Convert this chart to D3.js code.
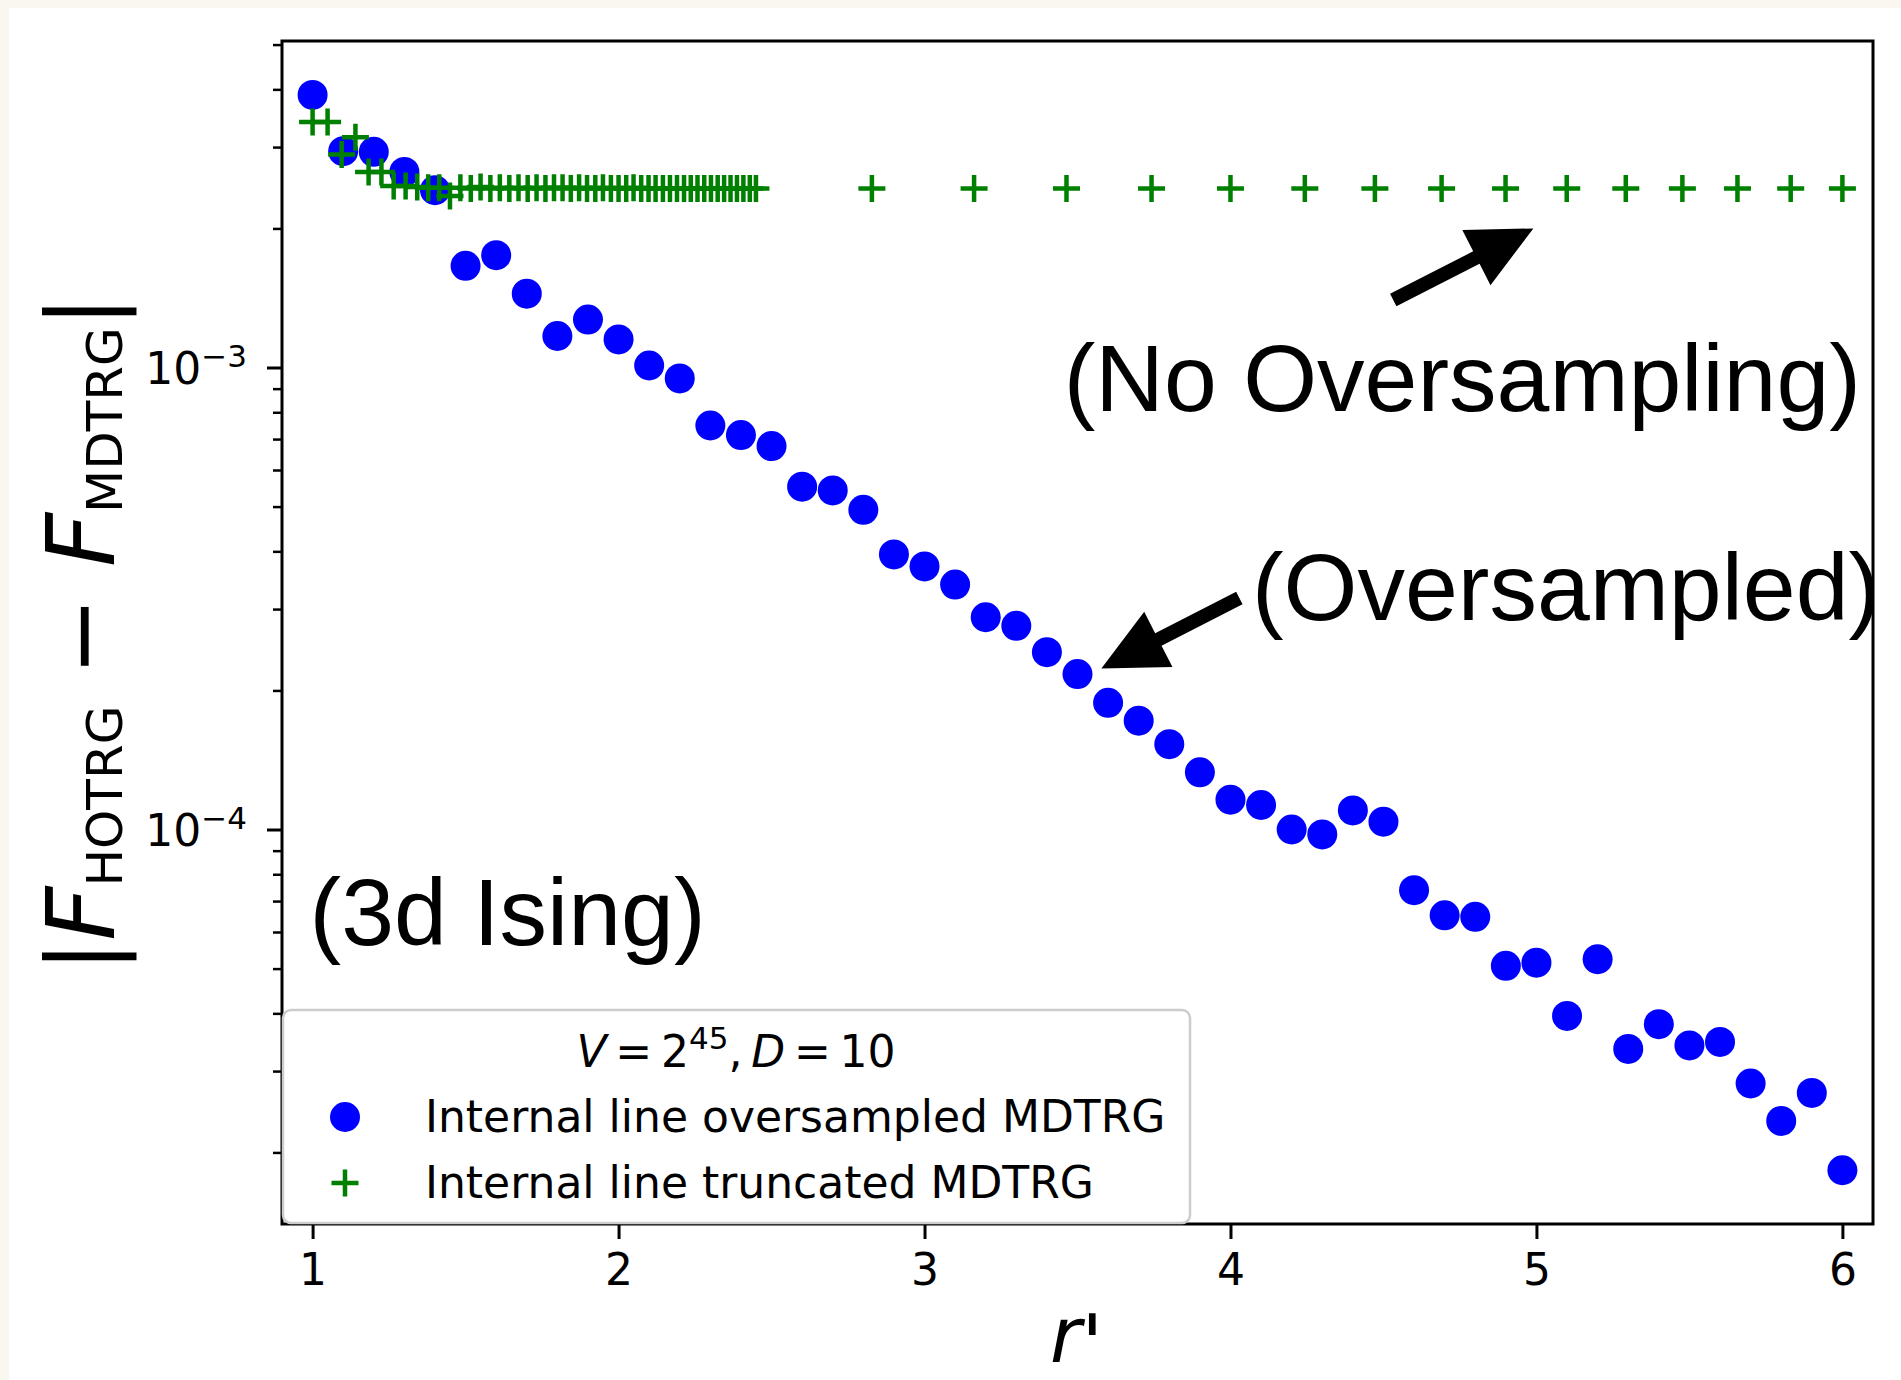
<!DOCTYPE html>
<html>
<head>
<meta charset="utf-8">
<script src="https://cdn.jsdelivr.net/npm/d3@7"></script>
<style>
  body { margin: 0; background: #faf6f0; }
  svg { display: block; }
</style>
</head>
<body>
<div id="chart"></div>
<script>

	// r' values and |F_HOTRG - F_MDTRG| for the oversampled run (blue dots)
	var rOversampled = [1.0, 1.1, 1.2, 1.3, 1.4, 1.5, 1.6, 1.7, 1.8, 1.9,
		2.0, 2.1, 2.2, 2.3, 2.4, 2.5, 2.6, 2.7, 2.8, 2.9,
		3.0, 3.1, 3.2, 3.3, 3.4, 3.5, 3.6, 3.7, 3.8, 3.9,
		4.0, 4.1, 4.2, 4.3, 4.4, 4.5, 4.6, 4.7, 4.8, 4.9,
		5.0, 5.1, 5.2, 5.3, 5.4, 5.5, 5.6, 5.7, 5.8, 5.9, 6.0];
	var errOversampled = [3.89e-3, 2.94e-3, 2.93e-3, 2.65e-3, 2.42e-3, 1.66e-3, 1.75e-3, 1.445e-3, 1.17e-3, 1.27e-3,
		1.15e-3, 1.01e-3, 9.47e-4, 7.49e-4, 7.14e-4, 6.76e-4, 5.52e-4, 5.42e-4, 4.92e-4, 3.94e-4,
		3.71e-4, 3.39e-4, 2.88e-4, 2.76e-4, 2.42e-4, 2.17e-4, 1.88e-4, 1.72e-4, 1.53e-4, 1.33e-4,
		1.16e-4, 1.13e-4, 1.00e-4, 9.76e-5, 1.10e-4, 1.04e-4, 7.39e-5, 6.52e-5, 6.47e-5, 5.07e-5,
		5.15e-5, 3.95e-5, 5.24e-5, 3.35e-5, 3.79e-5, 3.41e-5, 3.47e-5, 2.82e-5, 2.34e-5, 2.69e-5, 1.83e-5];

	// truncated run (green pluses)
	var rTruncated = [1.000, 1.049, 1.095, 1.140, 1.183, 1.225, 1.265, 1.304, 1.342, 1.378,
		1.414, 1.449, 1.483, 1.517, 1.549, 1.581, 1.612, 1.643, 1.673, 1.703,
		1.732, 1.761, 1.789, 1.817, 1.844, 1.871, 1.897, 1.924, 1.949, 1.975,
		2.000, 2.025, 2.049, 2.074, 2.098, 2.121, 2.145, 2.168, 2.191, 2.214,
		2.236, 2.258, 2.280, 2.302, 2.324, 2.345, 2.366, 2.387, 2.408, 2.429, 2.449,
		2.828, 3.162, 3.464, 3.742, 4.000, 4.243, 4.472, 4.690, 4.899, 5.099,
		5.292, 5.477, 5.657, 5.831, 6.000];
	var errTruncated = [3.40e-3, 3.40e-3, 2.89e-3, 3.15e-3, 2.65e-3, 2.65e-3, 2.47e-3, 2.47e-3, 2.46e-3, 2.45e-3,
		2.45e-3, 2.35e-3, 2.45e-3, 2.44e-3, 2.46e-3, 2.44e-3, 2.45e-3, 2.44e-3, 2.45e-3, 2.44e-3,
		2.45e-3, 2.44e-3, 2.45e-3, 2.45e-3, 2.44e-3, 2.45e-3, 2.44e-3, 2.44e-3, 2.45e-3, 2.44e-3,
		2.44e-3, 2.44e-3, 2.45e-3, 2.44e-3, 2.44e-3, 2.44e-3, 2.44e-3, 2.44e-3, 2.44e-3, 2.44e-3,
		2.44e-3, 2.44e-3, 2.44e-3, 2.44e-3, 2.44e-3, 2.44e-3, 2.44e-3, 2.44e-3, 2.44e-3, 2.44e-3, 2.44e-3,
		2.44e-3, 2.44e-3, 2.44e-3, 2.44e-3, 2.44e-3, 2.44e-3, 2.44e-3, 2.44e-3, 2.44e-3, 2.44e-3,
		2.44e-3, 2.44e-3, 2.44e-3, 2.44e-3, 2.44e-3];

	var xTicks = [1, 2, 3, 4, 5, 6];
	var yMajorTicks = [1e-3, 1e-4];
	var xDomain = [0.9, 6.1];
	var yDomain = [1.40e-5, 5.09e-3];

	var legendTitle = "V = 2^45, D = 10";
	var seriesNames = ["Internal line oversampled MDTRG", "Internal line truncated MDTRG"];

	// annotation texts [label, x, y] and arrows [tailX, tailY, tipX, tipY] in data coords
	var notes = [["(No Oversampling)", 3.455, 8.07e-4], ["(Oversampled)", 4.07, 2.84e-4], ["(3d Ising)", 0.99, 5.62e-5]];
	var arrows = [[4.532, 1.40e-3, 4.99, 2.0e-3], [4.029, 3.17e-4, 3.578, 2.23e-4]];

	var W = 1901, H = 1380;
	var m = {left: 282, right: 1873, top: 41, bottom: 1224};
	var tickFont = "DejaVu Sans, sans-serif";

	var svg = d3.select("#chart").append("svg").attr("width", W).attr("height", H);
	svg.append("rect").attr("width", W).attr("height", H).attr("fill", "#faf6f0");
	svg.append("rect").attr("x", 9).attr("y", 8).attr("width", W - 9).attr("height", H - 8).attr("fill", "#fff");

	var x = d3.scaleLinear().domain(xDomain).range([m.left, m.right]);
	var y = d3.scaleLog().domain(yDomain).range([m.bottom, m.top]);

	svg.append("clipPath").attr("id", "plotclip").append("rect")
		.attr("x", m.left).attr("y", m.top).attr("width", m.right - m.left).attr("height", m.bottom - m.top);

	var plot = svg.append("g").attr("clip-path", "url(#plotclip)");

	// blue dots
	plot.selectAll("circle.over").data(rOversampled).enter().append("circle")
		.attr("class", "over")
		.attr("cx", function(d){ return x(d); })
		.attr("cy", function(d, i){ return y(errOversampled[i]); })
		.attr("r", 15)
		.attr("fill", "#0000ff");

	// green pluses
	plot.selectAll("path.trunc").data(rTruncated).enter().append("path")
		.attr("class", "trunc")
		.attr("d", "M-13.5,0H13.5M0,-13.5V13.5")
		.attr("transform", function(d, i){ return "translate(" + x(d) + "," + y(errTruncated[i]) + ")"; })
		.attr("stroke", "#008000")
		.attr("stroke-width", 4.5)
		.attr("fill", "none");

	// annotations
	notes.forEach(function(n){
		plot.append("text")
			.attr("x", x(n[1])).attr("y", y(n[2]))
			.style("font-family", "Liberation Sans, Arial, sans-serif")
			.style("font-size", "95px")
			.attr("fill", "#000")
			.text(n[0]);
	});

	arrows.forEach(function(a){
		var x0 = x(a[0]), y0 = y(a[1]), x1 = x(a[2]), y1 = y(a[3]);
		var dx = x1 - x0, dy = y1 - y0, len = Math.sqrt(dx * dx + dy * dy);
		var ux = dx / len, uy = dy / len, nx = -uy, ny = ux;
		var sw = 7, hw = 31, hl = 64;
		var bx = x1 - ux * hl, by = y1 - uy * hl;
		var pts = [
			[x0 + nx * sw, y0 + ny * sw],
			[bx + nx * sw, by + ny * sw],
			[bx + nx * hw, by + ny * hw],
			[x1, y1],
			[bx - nx * hw, by - ny * hw],
			[bx - nx * sw, by - ny * sw],
			[x0 - nx * sw, y0 - ny * sw]
		];
		plot.append("path").attr("d", d3.line()(pts) + "Z").attr("fill", "#000");
	});

	// spines
	svg.append("rect")
		.attr("x", m.left).attr("y", m.top)
		.attr("width", m.right - m.left).attr("height", m.bottom - m.top)
		.attr("fill", "none").attr("stroke", "#000").attr("stroke-width", 3);

	// x axis
	var xAxis = d3.axisBottom(x).tickValues(xTicks).tickSize(15).tickPadding(15).tickFormat(d3.format("d"));
	var gx = svg.append("g").attr("transform", "translate(0," + m.bottom + ")").call(xAxis);
	gx.select(".domain").remove();
	gx.selectAll(".tick line").attr("stroke", "#000").attr("stroke-width", 3);
	gx.selectAll(".tick text").style("font-family", tickFont).style("font-size", "44px").attr("fill", "#000");

	// y axis: minor ticks from the log scale, majors labelled 10^k
	var minor = y.ticks().filter(function(t){ return yMajorTicks.indexOf(t) < 0; });
	var gyMinor = svg.append("g").attr("transform", "translate(" + m.left + ",0)")
		.call(d3.axisLeft(y).tickValues(minor).tickSize(9).tickFormat(""));
	gyMinor.select(".domain").remove();
	gyMinor.selectAll(".tick line").attr("stroke", "#000").attr("stroke-width", 2.5);

	var gy = svg.append("g").attr("transform", "translate(" + m.left + ",0)")
		.call(d3.axisLeft(y).tickValues(yMajorTicks).tickSize(15).tickFormat(""));
	gy.select(".domain").remove();
	gy.selectAll(".tick line").attr("stroke", "#000").attr("stroke-width", 3);
	gy.selectAll(".tick").each(function(d){
		var t = d3.select(this).append("text")
			.attr("x", -35).attr("y", 16)
			.attr("text-anchor", "end")
			.attr("fill", "#000")
			.style("font-family", tickFont).style("font-size", "44px");
		t.append("tspan").text("10");
		t.append("tspan").attr("dy", -17).style("font-size", "31px").text("\u2212" + Math.round(-Math.log10(d)));
	});

	// axis labels
	var yl = svg.append("text")
		.attr("transform", "translate(114,634) rotate(-90)")
		.attr("text-anchor", "middle")
		.attr("fill", "#000")
		.style("font-family", tickFont).style("font-size", "94px");
	yl.append("tspan").text("|");
	yl.append("tspan").style("font-style", "italic").text("F");
	yl.append("tspan").attr("dy", 8).style("font-size", "50px").text("HOTRG");
	yl.append("tspan").attr("dy", -8).text(" \u2212 ");
	yl.append("tspan").style("font-style", "italic").text("F");
	yl.append("tspan").attr("dy", 8).style("font-size", "50px").text("MDTRG");
	yl.append("tspan").attr("dy", -8).text("|");

	var xl = svg.append("text")
		.attr("x", 1050).attr("y", 1362)
		.attr("fill", "#000")
		.style("font-family", tickFont).style("font-size", "76px").style("font-style", "italic");
	xl.append("tspan").text("r");
	xl.append("tspan").attr("dy", 10).style("font-size", "80px").text("'");

	// legend
	var lg = svg.append("g");
	lg.append("rect")
		.attr("x", 283).attr("y", 1010).attr("width", 907).attr("height", 213)
		.attr("rx", 8)
		.attr("fill", "rgba(255,255,255,0.8)")
		.attr("stroke", "#cccccc").attr("stroke-width", 2.5);

	var parts = legendTitle.split(/[ ,^=]+/);
	var tt = lg.append("text")
		.attr("x", 736).attr("y", 1067)
		.attr("text-anchor", "middle").attr("fill", "#000")
		.style("font-family", tickFont).style("font-size", "44px");
	tt.append("tspan").style("font-style", "italic").text(parts[0]);
	tt.append("tspan").text("\u2009=\u2009" + parts[1]);
	tt.append("tspan").attr("dy", -18).style("font-size", "31px").text(parts[2]);
	tt.append("tspan").attr("dy", 18).text(",\u2009");
	tt.append("tspan").style("font-style", "italic").text(parts[3]);
	tt.append("tspan").text("\u2009=\u2009" + parts[4]);

	var rows = [1117, 1183];
	lg.append("circle").attr("cx", 345).attr("cy", rows[0]).attr("r", 15).attr("fill", "#0000ff");
	lg.append("path").attr("d", "M-13.5,0H13.5M0,-13.5V13.5")
		.attr("transform", "translate(345," + rows[1] + ")")
		.attr("stroke", "#008000").attr("stroke-width", 4.5);
	seriesNames.forEach(function(name, i){
		lg.append("text")
			.attr("x", 425).attr("y", rows[i] + 15)
			.attr("fill", "#000")
			.style("font-family", tickFont).style("font-size", "44px")
			.text(name);
	});

</script>
</body>
</html>
